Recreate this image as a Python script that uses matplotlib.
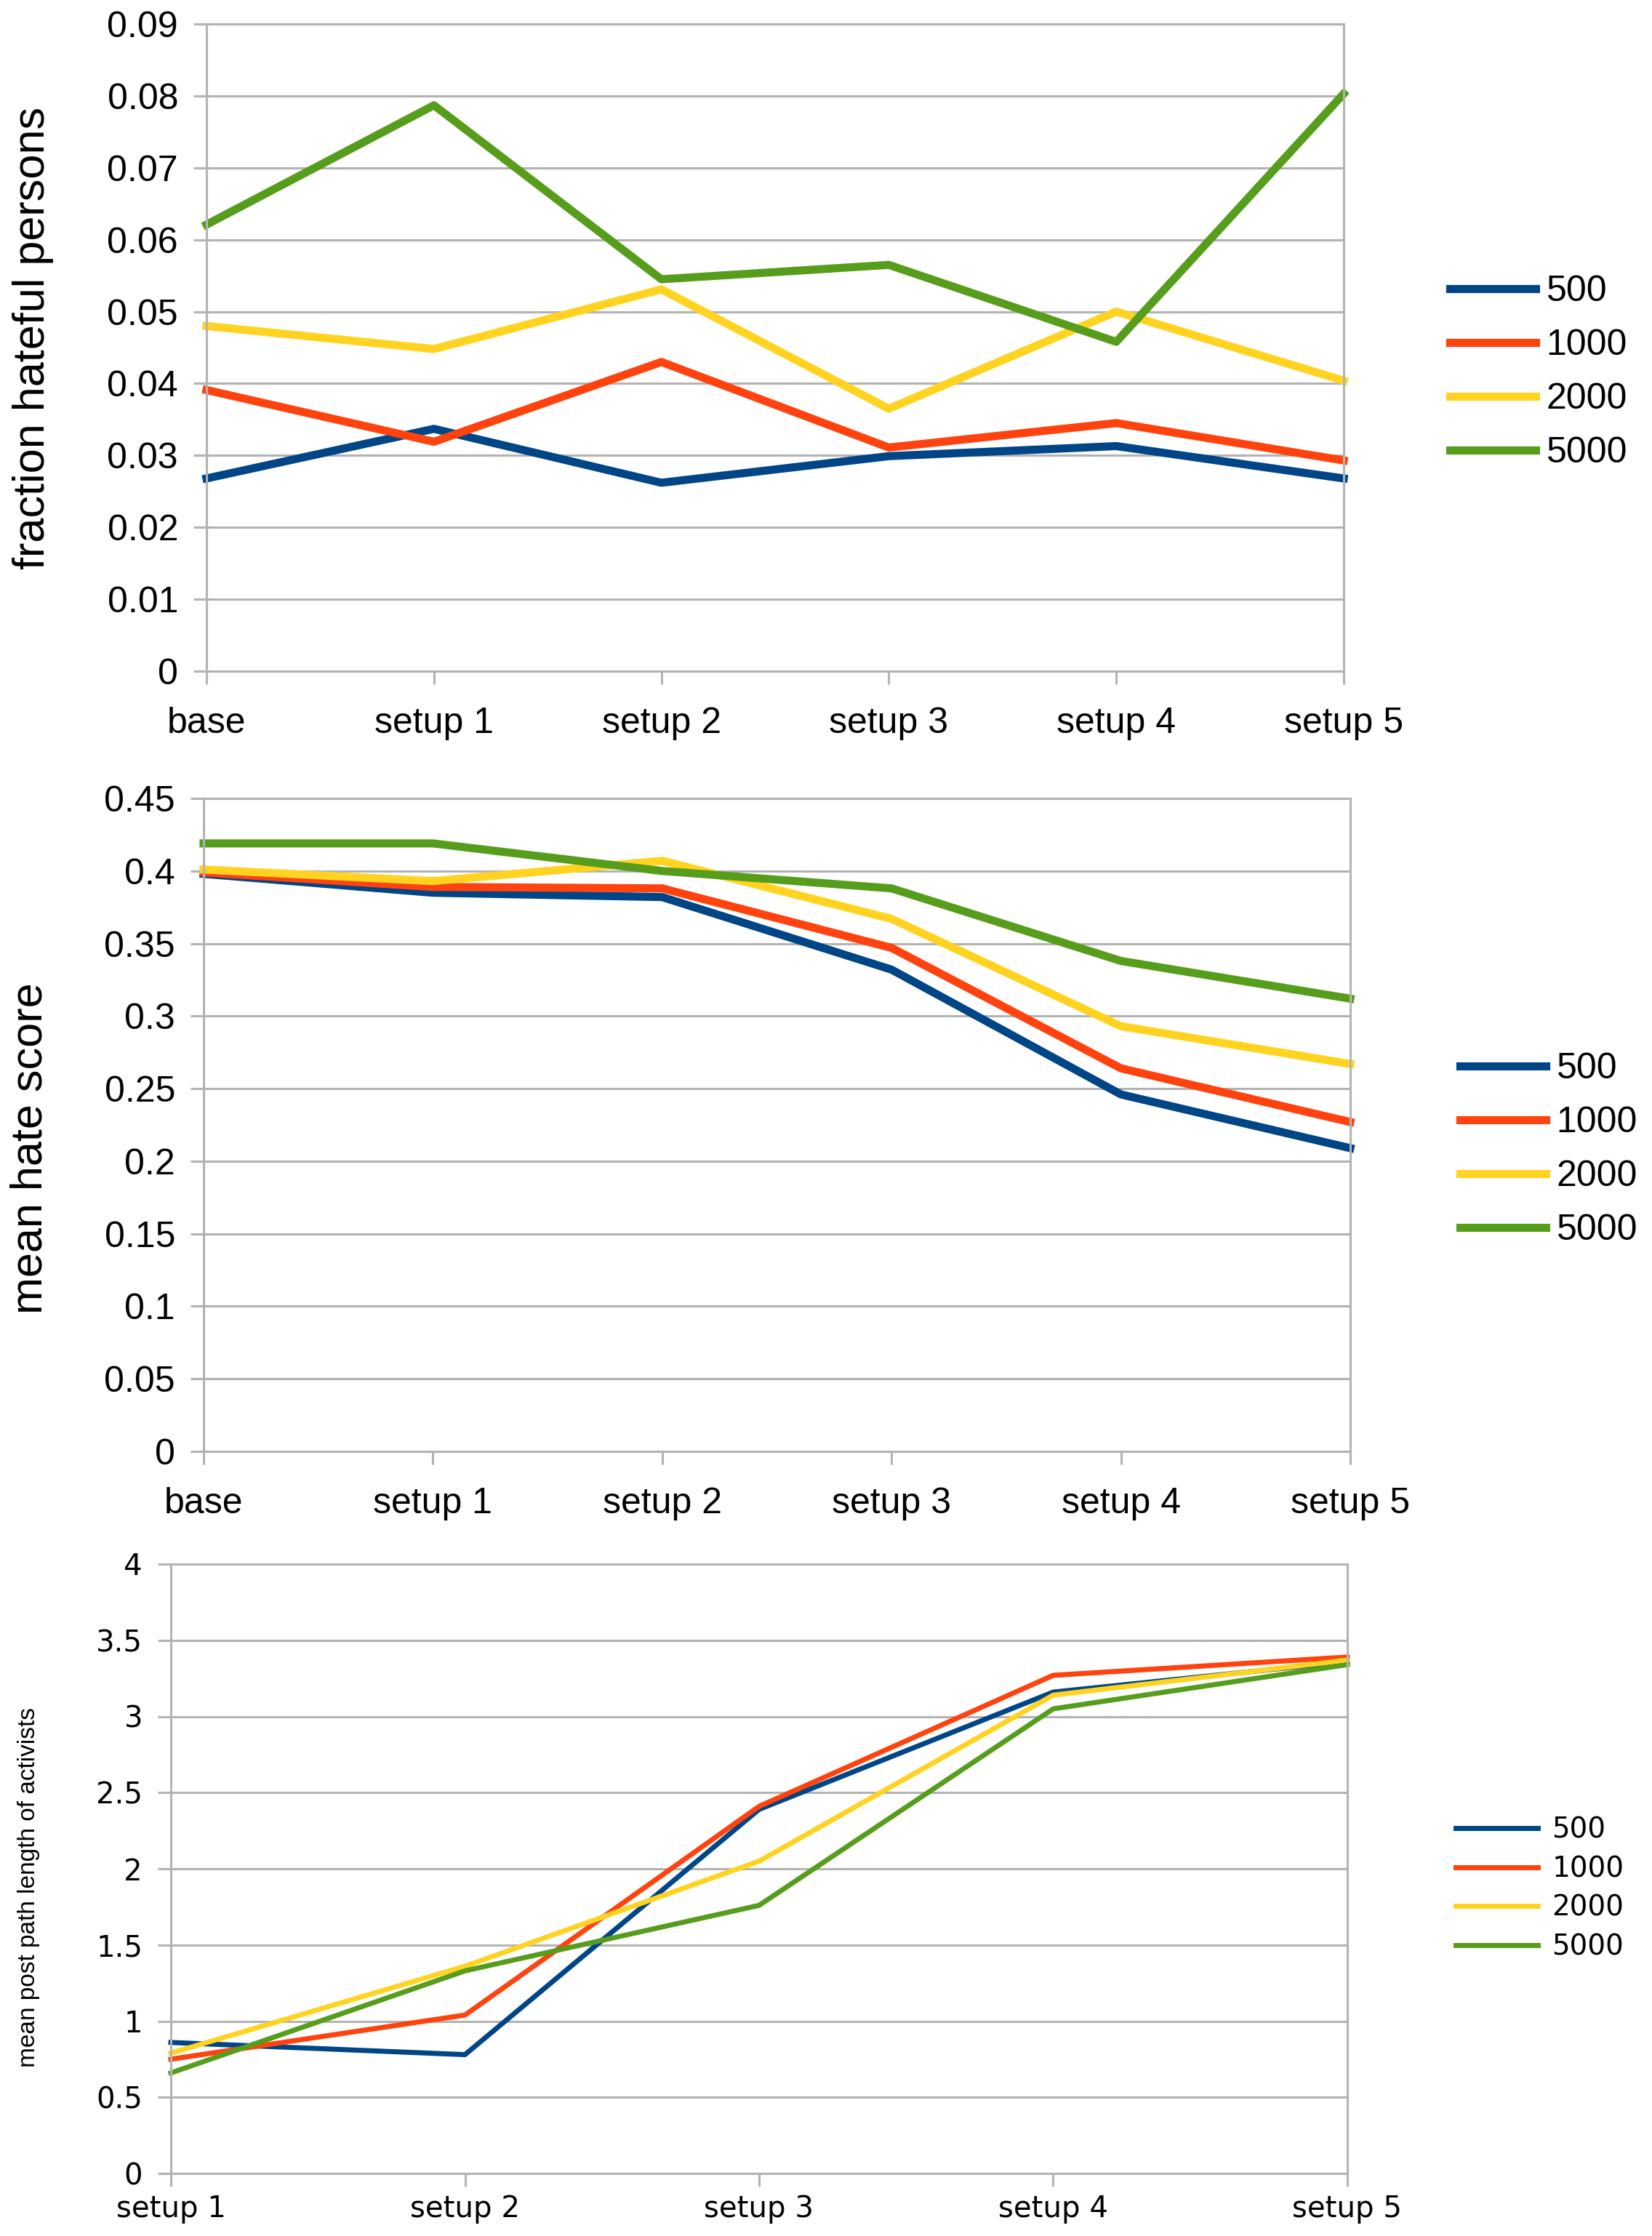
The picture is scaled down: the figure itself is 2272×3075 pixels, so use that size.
import matplotlib
matplotlib.use("Agg")
import matplotlib.pyplot as plt
import numpy as np

series_names = ["500", "1000", "2000", "5000"]
colors = ["#004586", "#ff420e", "#ffd320", "#579d1c"]

cats12 = ["base", "setup 1", "setup 2", "setup 3", "setup 4", "setup 5"]
frac_500 = [0.0268, 0.0337, 0.0262, 0.0299, 0.0313, 0.0268]
frac_1000 = [0.0391, 0.0319, 0.0430, 0.0311, 0.0345, 0.0293]
frac_2000 = [0.0480, 0.0448, 0.0531, 0.0365, 0.0500, 0.0404]
frac_5000 = [0.0621, 0.0787, 0.0545, 0.0565, 0.0458, 0.0803]

hate_500 = [0.398, 0.385, 0.382, 0.332, 0.246, 0.209]
hate_1000 = [0.399, 0.389, 0.388, 0.347, 0.264, 0.227]
hate_2000 = [0.401, 0.393, 0.407, 0.367, 0.293, 0.267]
hate_5000 = [0.419, 0.419, 0.400, 0.388, 0.338, 0.312]

cats3 = ["setup 1", "setup 2", "setup 3", "setup 4", "setup 5"]
path_500 = [0.86, 0.78, 2.39, 3.16, 3.36]
path_1000 = [0.75, 1.04, 2.41, 3.27, 3.39]
path_2000 = [0.79, 1.36, 2.05, 3.14, 3.37]
path_5000 = [0.66, 1.33, 1.76, 3.05, 3.34]

W, H = 2272, 3075
fig = plt.figure(figsize=(W / 100, H / 100), dpi=100)
grid_c = "#b3b3b3"

def px_axes(l, r, t, b):
    return fig.add_axes([l / W, 1 - b / H, (r - l) / W, (b - t) / H])

def fmt_num(v):
    return ("%.4f" % v).rstrip("0").rstrip(".")

def style(ax, ymax, ystep, cats, fam, tfs, xpad, lw_grid=2.2):
    ax.set_xlim(0, len(cats) - 1)
    ax.set_ylim(0, ymax)
    ax.set_xticks(range(len(cats)))
    ax.set_xticklabels(cats)
    ax.set_yticks(np.round(np.arange(0, ymax + ystep / 2, ystep), 4))
    ax.yaxis.grid(True, color=grid_c, linewidth=lw_grid)
    ax.set_axisbelow(True)
    for s in ax.spines.values():
        s.set_color(grid_c)
        s.set_linewidth(lw_grid)
    ax.tick_params(axis="both", colors=grid_c, length=13, width=lw_grid,
                   labelcolor="#000000", labelsize=tfs)
    ax.tick_params(axis="x", pad=xpad)
    ax.tick_params(axis="y", pad=15)
    ax.set_yticklabels([fmt_num(v) for v in ax.get_yticks()])
    for lab in ax.get_xticklabels() + ax.get_yticklabels():
        lab.set_family(fam)

leg_common = dict(frameon=False, borderpad=0, borderaxespad=0, bbox_transform=fig.transFigure)

# Panel 1
ax1 = px_axes(284, 1848, 33, 923)
for vals, c, n in zip([frac_500, frac_1000, frac_2000, frac_5000], colors, series_names):
    ax1.plot(range(len(cats12)), vals, color=c, lw=8, label=n, clip_on=False)
style(ax1, 0.09, 0.01, cats12, "Liberation Sans", 36, 22)
ax1.set_ylabel("fraction hateful persons", fontsize=44, family="Liberation Sans")
ax1.yaxis.set_label_coords(-0.134, 0.515)
ax1.legend(loc="center left", bbox_to_anchor=(1994 / W, 1 - 512 / H),
           prop={"family": "Liberation Sans", "size": 36}, handlelength=2.35,
           handletextpad=0.3, labelspacing=0.56, **leg_common)

# Panel 2
ax2 = px_axes(280, 1857, 1098, 1996)
for vals, c, n in zip([hate_500, hate_1000, hate_2000, hate_5000], colors, series_names):
    ax2.plot(range(len(cats12)), vals, color=c, lw=8, label=n, clip_on=False)
style(ax2, 0.45, 0.05, cats12, "Liberation Sans", 36, 22)
ax2.set_ylabel("mean hate score", fontsize=44, family="Liberation Sans")
ax2.yaxis.set_label_coords(-0.133, 0.464)
ax2.legend(loc="center left", bbox_to_anchor=(2008 / W, 1 - 1581 / H),
           prop={"family": "Liberation Sans", "size": 36}, handlelength=2.35,
           handletextpad=0.3, labelspacing=0.56, **leg_common)

# Panel 3
ax3 = px_axes(235, 1853, 2151, 2989)
for vals, c, n in zip([path_500, path_1000, path_2000, path_5000], colors, series_names):
    ax3.plot(range(len(cats3)), vals, color=c, lw=5, label=n, clip_on=False)
style(ax3, 4, 0.5, cats3, "DejaVu Sans", 29, 8)
ax3.set_ylabel("mean post path length of activists", fontsize=24, family="Liberation Sans")
ax3.yaxis.set_label_coords(-0.111, 0.47)
ax3.legend(loc="center left", bbox_to_anchor=(2002 / W, 1 - 2597 / H),
           prop={"family": "DejaVu Sans", "size": 28}, handlelength=2.9,
           handletextpad=0.5, labelspacing=0.4, **leg_common)

fig.savefig("out.png", dpi=100, facecolor="white")
